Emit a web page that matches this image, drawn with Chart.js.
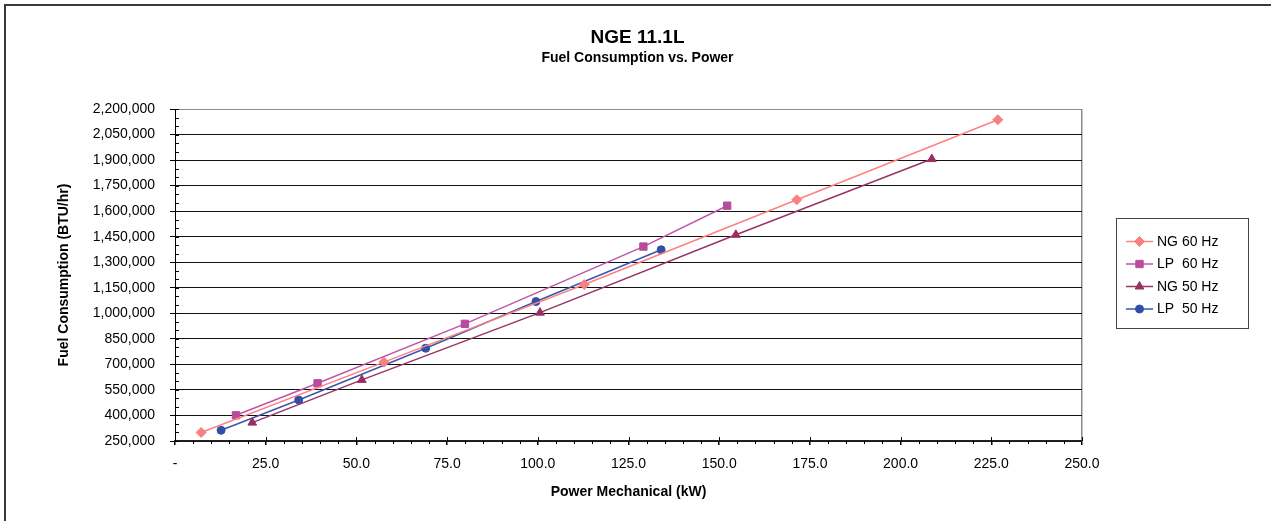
<!DOCTYPE html>
<html>
<head>
<meta charset="utf-8">
<title>NGE 11.1L</title>
<script src="https://cdn.jsdelivr.net/npm/chart.js@4"></script>
<style>
  html, body { margin: 0; padding: 0; background: #fff; }
  #wrap { width: 1271px; height: 521px; }
</style>
</head>
<body>
<div id="wrap"><canvas id="fuel" width="1271" height="521"></canvas></div>
<script>
// values (kW, BTU/hr)
const seriesNames = ['NG 60 Hz', 'LP  60 Hz', 'NG 50 Hz', 'LP  50 Hz'];
const ng60Kw = [7.2, 57.6, 112.8, 171.4, 226.8];
const ng60Btu = [300000, 713000, 1169000, 1667000, 2137000];
const lp60Kw = [16.8, 39.3, 79.9, 129.1, 152.2];
const lp60Btu = [401000, 589000, 938000, 1392000, 1632000];
const ng50Kw = [21.3, 51.5, 100.6, 154.6, 208.6];
const ng50Btu = [358000, 609000, 1004000, 1461000, 1906000];
const lp50Kw = [12.7, 34.1, 69.1, 99.5, 134.0];
const lp50Btu = [313000, 491000, 795000, 1069000, 1373000];

const xMin = 0, xMax = 250, xStep = 25, xMinor = 5;
const yMin = 250000, yMax = 2200000, yStep = 150000, yMinor = 50000;

const FONT = "'Liberation Sans', Arial, Helvetica, sans-serif";

const pairUp = (xs, ys) => xs.map((x, i) => ({ x: x, y: ys[i] }));

const styles = [
  { line: '#FF8080', fill: '#F88080', point: 'rectRot', radius: 5 },
  { line: '#C055A8', fill: '#B84C9C', point: 'rect', radius: 5.2 },
  { line: '#993366', fill: '#9A2E60', point: 'triangle', radius: 5 },
  { line: '#3A56AC', fill: '#3050A8', point: 'circle', radius: 4 }
];

const allData = [
  pairUp(ng60Kw, ng60Btu),
  pairUp(lp60Kw, lp60Btu),
  pairUp(ng50Kw, ng50Btu),
  pairUp(lp50Kw, lp50Btu)
];

const datasets = allData.map((d, i) => ({
  label: seriesNames[i],
  data: d,
  borderColor: styles[i].line,
  borderWidth: 1.5,
  backgroundColor: styles[i].fill,
  pointStyle: styles[i].point,
  pointRadius: styles[i].radius,
  pointBackgroundColor: styles[i].fill,
  pointBorderColor: styles[i].fill,
  pointBorderWidth: 1,
  showLine: true,
  tension: 0
}));

// frame, minor ticks and boxed legend like the Excel original
const decorations = {
  id: 'decorations',
  beforeDraw(chart) {
    const ctx = chart.ctx;
    ctx.save();
    ctx.fillStyle = '#fff';
    ctx.fillRect(0, 0, chart.width, chart.height);
    ctx.strokeStyle = '#3a3a3a';
    ctx.lineWidth = 2;
    ctx.beginPath();
    ctx.moveTo(5, chart.height + 2);
    ctx.lineTo(5, 5);
    ctx.lineTo(chart.width + 2, 5);
    ctx.stroke();
    ctx.restore();
  },
  afterDraw(chart) {
    const ctx = chart.ctx;
    const xs = chart.scales.x, ys = chart.scales.y;
    ctx.save();
    ctx.strokeStyle = '#000';
    ctx.lineWidth = 1;
    ctx.beginPath();
    for (let v = yMin; v <= yMax; v += yMinor) {
      const py = Math.round(ys.getPixelForValue(v)) + 0.5;
      ctx.moveTo(xs.left, py);
      ctx.lineTo(xs.left + 4, py);
    }
    for (let v = xMin; v <= xMax; v += xMinor) {
      const px = Math.round(xs.getPixelForValue(v)) + 0.5;
      if (v % xStep === 0) {
        ctx.moveTo(px, ys.bottom - 4);
        ctx.lineTo(px, ys.bottom);
      } else {
        ctx.moveTo(px, ys.bottom);
        ctx.lineTo(px, ys.bottom + 3);
      }
    }
    ctx.stroke();

    // legend
    const bx = 1116.5, by = 218.5, bw = 132, bh = 110;
    ctx.strokeStyle = '#444';
    ctx.lineWidth = 1;
    ctx.strokeRect(bx, by, bw, bh);
    const rows = [241.5, 264, 286.5, 309];
    ctx.font = '14px ' + FONT;
    ctx.textBaseline = 'middle';
    ctx.textAlign = 'left';
    chart.data.datasets.forEach((ds, i) => {
      const y = rows[i];
      ctx.strokeStyle = ds.borderColor;
      ctx.lineWidth = 1.5;
      ctx.beginPath();
      ctx.moveTo(1126, y);
      ctx.lineTo(1153, y);
      ctx.stroke();
      ctx.fillStyle = ds.pointBackgroundColor;
      ctx.strokeStyle = ds.pointBorderColor;
      ctx.lineWidth = 1;
      Chart.helpers.drawPoint(ctx, {
        pointStyle: ds.pointStyle,
        radius: ds.pointRadius,
        rotation: 0,
        borderWidth: 1
      }, 1139.5, y);
      ctx.fillStyle = '#000';
      ctx.fillText(ds.label, 1157, y + 0.5);
    });
    ctx.restore();
  }
};

new Chart(document.getElementById('fuel'), {
  type: 'scatter',
  data: { datasets: datasets },
  options: {
    responsive: false,
    animation: false,
    devicePixelRatio: 1,
    layout: { padding: { left: 4, right: 0, top: 0, bottom: 0 } },
    plugins: {
      legend: { display: false },
      tooltip: { enabled: false },
      title: {
        display: true,
        text: 'NGE 11.1L',
        color: '#000',
        font: { family: FONT, size: 19, weight: 'bold' },
        padding: { top: 26.4, bottom: 0.4 }
      },
      subtitle: {
        display: true,
        text: 'Fuel Consumption vs. Power',
        color: '#000',
        font: { family: FONT, size: 14, weight: 'bold' },
        padding: { top: 0, bottom: 42.6 }
      }
    },
    scales: {
      x: {
        type: 'linear',
        min: xMin,
        max: xMax,
        afterFit(scale) { scale.height = 80; },
        ticks: {
          stepSize: xStep,
          color: '#000',
          padding: 11,
          maxRotation: 0,
          font: { family: FONT, size: 14 },
          callback: v => v === 0 ? '-' : v.toFixed(1)
        },
        grid: {
          drawOnChartArea: true,
          color: ctx => ctx.tick && ctx.tick.value === xMax ? '#8c8c8c' : 'rgba(0,0,0,0)',
          tickColor: '#000',
          tickLength: 4,
          lineWidth: 1.5
        },
        border: { display: true, color: '#222', width: 1.5 },
        title: {
          display: true,
          text: 'Power Mechanical (kW)',
          color: '#000',
          font: { family: FONT, size: 14, weight: 'bold' },
          padding: { top: 0, bottom: 20.6 }
        }
      },
      y: {
        type: 'linear',
        min: yMin,
        max: yMax,
        afterFit(scale) { scale.width = 171; },
        ticks: {
          stepSize: yStep,
          color: '#000',
          padding: 15,
          font: { family: FONT, size: 14 },
          callback: v => v.toLocaleString('en-US')
        },
        grid: {
          color: ctx => ctx.tick && ctx.tick.value === yMax ? '#8c8c8c' : '#111',
          tickColor: '#000',
          tickLength: 5,
          lineWidth: 1
        },
        border: { display: true, color: '#000', width: 1 },
        title: {
          display: true,
          text: 'Fuel Consumption (BTU/hr)',
          color: '#000',
          font: { family: FONT, size: 14, weight: 'bold' },
          padding: { top: 51.6, bottom: 0 }
        }
      },
      // empty right-hand axis that keeps room for the legend box
      legendSpace: {
        type: 'linear',
        position: 'right',
        min: yMin,
        max: yMax,
        afterFit(scale) { scale.width = 189; },
        ticks: { display: false },
        grid: { display: false },
        border: { display: false }
      }
    }
  },
  plugins: [decorations]
});
</script>
</body>
</html>
